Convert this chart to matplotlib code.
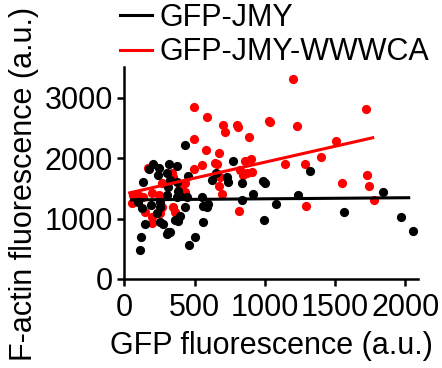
import matplotlib
matplotlib.use('Agg')
import matplotlib.pyplot as plt

plt.rcParams['font.family'] = ['Liberation Sans', 'DejaVu Sans']

# GFP-JMY (black)
jmy_x = [430, 772, 203, 174, 245, 238, 316, 373, 302, 132, 452, 324, 309, 373, 380,
         622, 651, 729, 736, 836, 985, 999, 914, 96, 124, 188, 252, 252, 302, 373,
         395, 445, 430, 551, 558, 587, 594, 836, 1077, 146, 231, 252, 274, 395, 359,
         380, 558, 992, 309, 302, 324, 117, 501, 459, 110, 1319, 1234, 1561, 1839,
         1967, 2052]
jmy_y = [2222, 1956, 1907, 1824, 1840, 1724, 1907, 1874, 1757, 1608, 1708, 1641, 1525,
         1608, 1459, 1641, 1757, 1691, 1608, 1592, 1625, 1592, 1409, 1277, 1177, 1227,
         1277, 1194, 1393, 1360, 1376, 1360, 1194, 1360, 1210, 1194, 1244, 1310, 1244,
         912, 1094, 945, 912, 1045, 978, 962, 945, 978, 779, 746, 779, 696, 696, 564,
         481, 1791, 1393, 1111, 1442, 1028, 796]

# GFP-JMY-WWWCA (red)
mut_x = [494, 587, 701, 715, 800, 807, 1028, 885, 494, 580, 672, 857, 900, 494, 551,
         644, 658, 167, 679, 672, 693, 821, 871, 907, 843, 814, 430, 395, 430, 338,
         267, 60, 53, 96, 132, 196, 245, 146, 196, 196, 267, 252, 345, 359, 345,
         1198, 1035, 1227, 1718, 1504, 1398, 1284, 1141, 1547, 1725, 1739, 1774, 1291]
mut_y = [2852, 2686, 2553, 2437, 2553, 2520, 2620, 2354, 2321, 2139, 2089, 1956, 1990,
         1824, 1890, 1923, 1907, 1840, 1691, 1542, 1409, 1807, 1757, 1774, 1724, 1127,
         1592, 1525, 1442, 1757, 1592, 1393, 1260, 1393, 1360, 1426, 1393, 1111, 1028,
         928, 1194, 1094, 1194, 1111, 1691, 3316, 2603, 2537, 2819, 2288, 2023, 1907,
         1907, 1592, 1724, 1542, 1310, 1210]

# fitted lines (end points)
jmy_fit_x = [53, 2023]
jmy_fit_y = [1310, 1345]
mut_fit_x = [39, 1767]
mut_fit_y = [1426, 2338]

xticks = [0, 500, 1000, 1500, 2000]
yticks = [0, 1000, 2000, 3000]

fs = 22
fig = plt.figure(figsize=(4.42, 3.68), dpi=100)
ax = fig.add_axes([0.281, 0.242, 0.665, 0.576])

ax.scatter(jmy_x, jmy_y, s=44, color='black', linewidths=0, zorder=3)
ax.scatter(mut_x, mut_y, s=44, color='#ff0000', linewidths=0, zorder=2)
ax.plot(jmy_fit_x, jmy_fit_y, color='black', lw=2.2, zorder=4, label='GFP-JMY')
ax.plot(mut_fit_x, mut_fit_y, color='#ff0000', lw=2.2, zorder=4, label='GFP-JMY-WWWCA')

ax.set_xlim(0, 2090)
ax.set_ylim(0, 3510)
ax.set_xticks(xticks)
ax.set_yticks(yticks)
for s in ['top', 'right']:
    ax.spines[s].set_visible(False)
for s in ['left', 'bottom']:
    ax.spines[s].set_linewidth(1.8)
ax.tick_params(width=1.8, length=5, labelsize=fs)
ax.tick_params(axis='x', pad=5)
ax.tick_params(axis='y', pad=3)

ax.set_xlabel('GFP fluorescence (a.u.)', fontsize=fs, labelpad=6)
ax.set_ylabel('F-actin fluorescence (a.u.)', fontsize=fs)
ax.yaxis.set_label_coords(-0.29, 0.448)

ax.legend(loc='upper left', bbox_to_anchor=(-0.057, 1.36), frameon=False,
          fontsize=fs, handlelength=1.05, handletextpad=0.25, borderaxespad=0,
          labelspacing=0.15)

fig.savefig('out.png', dpi=100)
